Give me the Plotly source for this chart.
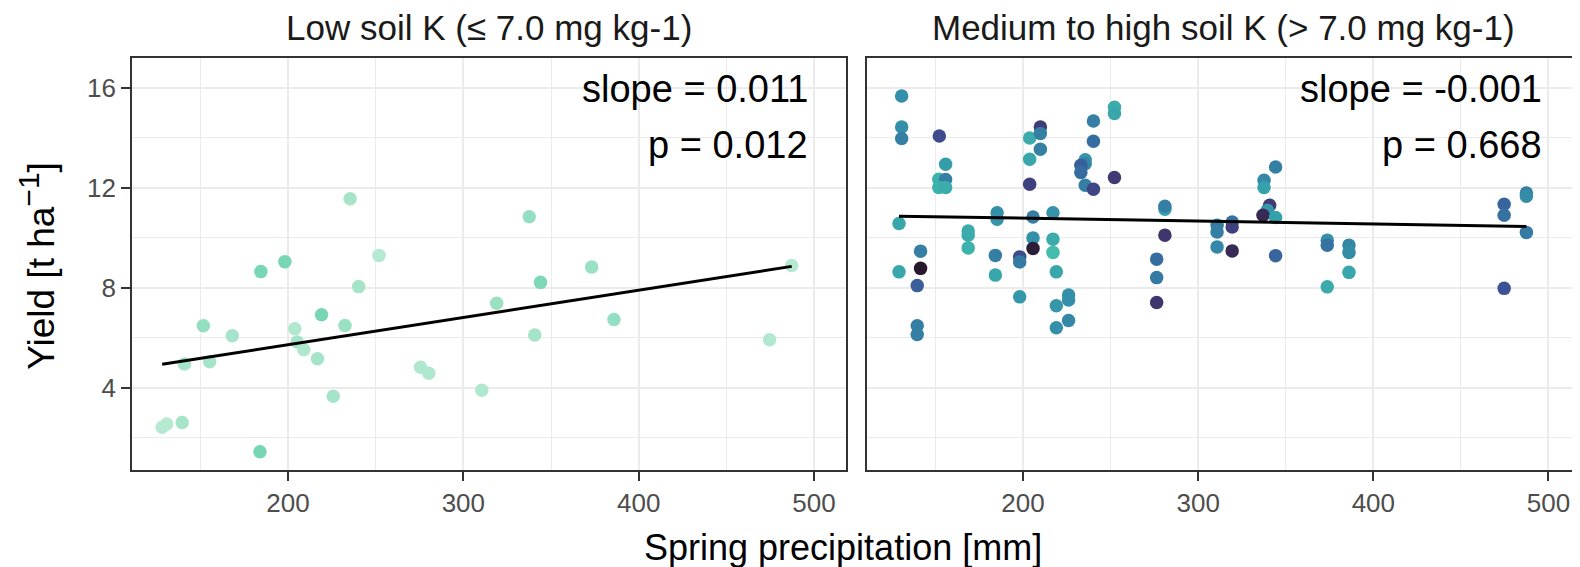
import numpy as np
import plotly.graph_objects as go

# ---------------- data ----------------
panel_titles = ["Low soil K (\u2264 7.0 mg kg-1)", "Medium to high soil K (> 7.0 mg kg-1)"]
slope_labels = ["slope = 0.011", "slope = -0.001"]
p_labels = ["p = 0.012", "p = 0.668"]
x_ticks = [200, 300, 400, 500]
y_ticks = [4, 8, 12, 16]

# Low soil K panel
low_precip = [128.2, 130.8, 139.6, 140.9, 151.7, 155.3, 168.2, 184.5, 184.0, 198.2,
              203.9, 205.2, 209.0, 216.8, 219.1, 225.8, 232.5, 235.4, 240.3, 251.9,
              275.6, 280.3, 310.5, 319.0, 337.6, 340.7, 344.0, 373.2, 385.9, 474.7, 487.3]
low_yield = [2.42, 2.55, 2.61, 4.95, 6.48, 5.04, 6.08, 8.65, 1.44, 9.05,
             6.36, 5.83, 5.52, 5.16, 6.92, 3.66, 6.49, 11.57, 8.05, 9.30,
             4.82, 4.58, 3.90, 7.38, 10.85, 6.11, 8.22, 8.83, 6.73, 5.92, 8.89]
low_shade = [0.965, 0.965, 0.95, 0.95, 0.935, 0.95, 0.95, 0.91, 0.91, 0.91,
             0.96, 0.95, 0.96, 0.95, 0.91, 0.95, 0.94, 0.95, 0.95, 0.965,
             0.96, 0.96, 0.96, 0.94, 0.935, 0.95, 0.915, 0.94, 0.935, 0.96, 0.965]
# fitted line end points
low_fit_precip = [128.2, 487.3]
low_fit_yield = [4.94, 8.86]

# Medium to high soil K panel
high_precip = [130.7, 130.7, 130.7, 129.2, 129.2, 141.5, 141.5, 139.6, 139.6, 139.6,
               152.2, 155.8, 151.9, 155.8, 151.9, 155.8, 168.7, 168.7, 168.7, 185.2,
               185.2, 184.2, 184.2, 198.1, 198.1, 198.1, 203.8, 203.8, 203.8, 205.7,
               205.7, 205.7, 209.9, 209.9, 209.9, 217.1, 217.1, 217.1, 219.0, 219.0,
               219.0, 226.0, 226.0, 226.0, 240.2, 240.2, 235.5, 235.5, 233.0, 233.0,
               235.5, 240.2, 252.2, 252.2, 252.2, 281.0, 281.0, 281.0, 276.3, 276.3,
               276.3, 310.8, 310.8, 310.8, 319.4, 319.4, 319.4, 344.2, 337.6, 337.6,
               340.8, 339.5, 337.0, 344.2, 344.2, 373.7, 373.7, 373.7, 386.1, 386.1,
               386.1, 474.7, 474.7, 474.7, 487.4, 487.4, 487.4]
high_yield = [15.68, 14.44, 13.98, 10.58, 8.64, 9.47, 8.78, 8.09, 6.48, 6.13,
              14.08, 12.95, 12.35, 12.34, 12.02, 12.02, 10.28, 10.11, 9.60, 11.01,
              10.75, 9.30, 8.51, 9.24, 9.04, 7.64, 14.00, 13.15, 12.15, 10.84,
              10.00, 9.58, 14.44, 14.18, 13.55, 11.01, 9.95, 9.42, 8.64, 7.28,
              6.40, 7.71, 7.51, 6.69, 14.68, 13.87, 13.13, 12.97, 12.91, 12.62,
              12.11, 11.95, 15.23, 14.98, 12.42, 11.15, 11.27, 10.11, 9.15, 8.41,
              7.41, 10.51, 10.24, 9.64, 10.64, 10.44, 9.48, 12.84, 12.31, 12.02,
              11.31, 11.11, 10.91, 10.82, 9.29, 9.91, 9.71, 8.04, 9.71, 9.42,
              8.62, 11.35, 10.91, 7.98, 11.80, 11.67, 10.22]
high_shade = [0.63, 0.63, 0.57, 0.72, 0.72, 0.57, 0.12, 0.45, 0.57, 0.57,
              0.37, 0.68, 0.76, 0.57, 0.76, 0.74, 0.74, 0.74, 0.76, 0.63,
              0.65, 0.57, 0.72, 0.37, 0.55, 0.66, 0.74, 0.72, 0.33, 0.57,
              0.63, 0.15, 0.30, 0.57, 0.57, 0.65, 0.74, 0.80, 0.72, 0.66,
              0.63, 0.63, 0.63, 0.60, 0.57, 0.50, 0.66, 0.60, 0.45, 0.50,
              0.57, 0.35, 0.74, 0.72, 0.30, 0.70, 0.57, 0.28, 0.50, 0.55,
              0.28, 0.55, 0.57, 0.60, 0.52, 0.33, 0.22, 0.57, 0.60, 0.70,
              0.30, 0.66, 0.22, 0.70, 0.47, 0.63, 0.52, 0.74, 0.60, 0.62,
              0.72, 0.47, 0.52, 0.40, 0.57, 0.62, 0.55]
high_fit_precip = [129.2, 487.4]
high_fit_yield = [10.87, 10.46]

# mako-like colour scale (dark -> light)
mako = [[0.0, "#0B0405"], [0.1, "#231526"], [0.2, "#35264C"], [0.3, "#403A75"],
        [0.4, "#3D5296"], [0.5, "#366DA0"], [0.6, "#3487A6"], [0.7, "#35A1AB"],
        [0.8, "#43BBAD"], [0.9, "#6CD3AD"], [1.0, "#DEF5E5"]]

FONT = "Liberation Sans, Arial, sans-serif"
OFF = 8  # page body margin of the html page
W, H = 1580 - OFF, 567 - OFF
L, R, T = 132.3 - OFF, 0, 57.7 - OFF
B = H - (470 - OFF)
plot_w = W - L - R
plot_h = H - T - B

def px_x(px):  # screen pixel -> paper x
    return (px - OFF - L) / plot_w

def px_y(py):  # screen pixel -> paper y
    return (H - B - (py - OFF)) / plot_h

fig = go.Figure()

panels = [(low_precip, low_yield, low_shade, low_fit_precip, low_fit_yield, "x", "y"),
          (high_precip, high_yield, high_shade, high_fit_precip, high_fit_yield, "x2", "y2")]
for xs, ys, cs, fx, fy, xa, ya in panels:
    fig.add_trace(go.Scatter(
        x=xs, y=ys, mode="markers", xaxis=xa, yaxis=ya,
        marker=dict(size=13.5, color=cs, colorscale=mako, cmin=0, cmax=1,
                    line=dict(width=0)),
        showlegend=False, hoverinfo="x+y"))
    fig.add_trace(go.Scatter(
        x=fx, y=fy, mode="lines", xaxis=xa, yaxis=ya,
        line=dict(color="black", width=3), showlegend=False, hoverinfo="skip"))

xrange = [111.0, 518.0]
yrange = [0.71, 17.2]

axis_common = dict(
    showgrid=True, gridcolor="#ebebeb", gridwidth=2,
    zeroline=False, automargin=False,
    ticklen=9, tickwidth=2.2, tickcolor="#333333",
    tickfont=dict(family=FONT, size=26, color="#4d4d4d"),
    showline=True, linecolor="#333333", linewidth=1.6,
)
xminor = dict(dtick=50, tick0=0, showgrid=True, gridcolor="#ebebeb", gridwidth=1.1)
yminor = dict(dtick=2, tick0=0, showgrid=True, gridcolor="#ebebeb", gridwidth=1.1)

d1 = [0.0, (845.7 - OFF - L) / plot_w]
d2 = [(867.3 - OFF - L) / plot_w, 1.0]

fig.update_layout(
    width=W, height=H,
    margin=dict(l=L, r=R, t=T, b=B, autoexpand=False),
    paper_bgcolor="white", plot_bgcolor="white",
    font=dict(family=FONT),
    xaxis=dict(domain=d1, range=xrange, tickvals=x_ticks, mirror=True, ticks="outside",
               minor=xminor, anchor="y", **axis_common),
    xaxis2=dict(domain=d2, range=xrange, tickvals=x_ticks, mirror=True, ticks="outside",
                minor=xminor, anchor="y2", **axis_common),
    yaxis=dict(domain=[0, 1], range=yrange, tickvals=y_ticks, mirror=True, ticks="outside",
               minor=yminor, anchor="x", **axis_common),
    yaxis2=dict(domain=[0, 1], range=yrange, tickvals=y_ticks, mirror=False, ticks="",
                showticklabels=False, minor=yminor, anchor="x2", **axis_common),
)

ann = []
centers = [px_x((132.3 + 845.7) / 2), px_x((867.3 + 1580.7) / 2)]
for i, t in enumerate(panel_titles):
    ann.append(dict(text=t, x=centers[i], y=px_y(27.5), xref="paper", yref="paper",
                    xanchor="center", yanchor="middle", showarrow=False,
                    font=dict(family=FONT, size=35, color="#1a1a1a")))
right_edges = [px_x(810), px_x(1544.5)]
for i in range(2):
    ann.append(dict(text=slope_labels[i], x=right_edges[i], y=px_y(89), xref="paper", yref="paper",
                    xanchor="right", yanchor="middle", showarrow=False,
                    font=dict(family=FONT, size=38, color="black")))
    ann.append(dict(text=p_labels[i], x=right_edges[i], y=px_y(145), xref="paper", yref="paper",
                    xanchor="right", yanchor="middle", showarrow=False,
                    font=dict(family=FONT, size=38, color="black")))
ann.append(dict(text="Spring precipitation [mm]", x=px_x(843), y=px_y(547.5),
                xref="paper", yref="paper", xanchor="center", yanchor="middle",
                showarrow=False, font=dict(family=FONT, size=36, color="black")))
ann.append(dict(text="Yield [t ha<sup><span style='font-size:30px'>\u22121</span></sup>]",
                x=px_x(37), y=px_y(266),
                xref="paper", yref="paper", xanchor="center", yanchor="middle",
                textangle=-90, showarrow=False, font=dict(family=FONT, size=37, color="black")))
fig.update_layout(annotations=ann)

fig.write_html("out.html")
